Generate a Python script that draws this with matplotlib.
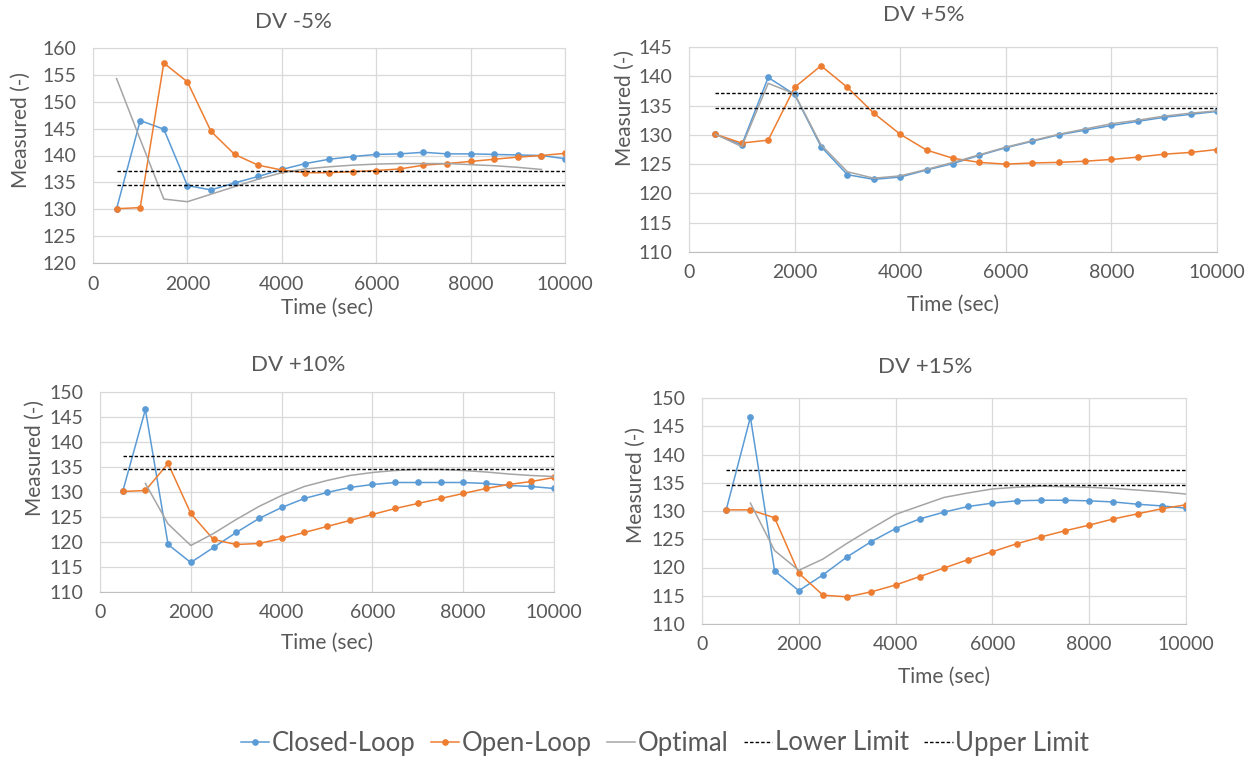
import matplotlib.pyplot as plt
import numpy as np

plt.rcParams['font.family'] = ['Lato', 'DejaVu Sans']

# sample times (sec) shared by every run
time = np.arange(500, 10001, 500)

# DV -5%
closed_m5 = [130.1, 146.5, 144.9, 134.4, 133.6, 134.9, 136.1, 137.4, 138.5, 139.3,
             139.8, 140.2, 140.3, 140.6, 140.3, 140.3, 140.2, 140.1, 140.0, 139.4]
open_m5 = [130.1, 130.3, 157.2, 153.7, 144.5, 140.2, 138.2, 137.3, 136.8, 136.8,
           137.0, 137.2, 137.5, 138.2, 138.5, 138.9, 139.3, 139.7, 140.0, 140.4]
optimal_m5 = [154.3, 143.0, 131.9, 131.4, 132.8, 134.2, 135.6, 136.8, 137.5, 137.9,
              138.2, 138.4, 138.5, 138.5, 138.5, 138.3, 138.1, 137.8, 137.4, np.nan]

# DV +5%
closed_p5 = [130.1, 128.3, 139.8, 136.9, 128.0, 123.2, 122.4, 122.8, 124.0, 125.1,
             126.5, 127.8, 128.9, 130.0, 130.8, 131.6, 132.3, 133.0, 133.5, 134.0]
open_p5 = [130.1, 128.6, 129.1, 138.1, 141.8, 138.1, 133.7, 130.1, 127.4, 126.0,
           125.3, 125.0, 125.2, 125.3, 125.5, 125.8, 126.2, 126.7, 127.0, 127.5]
optimal_p5 = [130.1, 128.0, 138.8, 137.0, 128.3, 123.7, 122.6, 123.0, 124.1, 125.3,
              126.6, 127.9, 129.0, 130.1, 131.0, 131.9, 132.5, 133.2, 133.7, 134.1]

# DV +10%
closed_p10 = [130.1, 146.5, 119.5, 115.9, 118.9, 121.9, 124.7, 126.9, 128.7, 129.9,
              130.9, 131.5, 131.9, 131.9, 131.9, 131.9, 131.7, 131.3, 131.1, 130.7]
open_p10 = [130.1, 130.3, 135.7, 125.7, 120.5, 119.5, 119.7, 120.7, 121.9, 123.1,
            124.3, 125.5, 126.7, 127.7, 128.7, 129.7, 130.7, 131.5, 132.1, 132.9]
optimal_p10 = [np.nan, 131.7, 123.6, 119.3, 121.7, 124.5, 127.1, 129.3, 131.1, 132.3,
               133.3, 133.9, 134.3, 134.5, 134.5, 134.3, 134.0, 133.6, 133.3, 133.1]

# DV +15%
closed_p15 = [130.2, 146.6, 119.4, 115.9, 118.7, 121.9, 124.6, 126.9, 128.6, 129.8,
              130.8, 131.4, 131.8, 131.9, 131.9, 131.8, 131.6, 131.2, 130.9, 130.5]
open_p15 = [130.2, 130.2, 128.8, 119.0, 115.1, 114.8, 115.7, 116.9, 118.4, 119.9,
            121.4, 122.8, 124.2, 125.4, 126.5, 127.5, 128.6, 129.5, 130.4, 131.1]
optimal_p15 = [np.nan, 131.4, 123.0, 119.5, 121.5, 124.3, 126.9, 129.4, 130.9, 132.4,
               133.2, 133.9, 134.2, 134.4, 134.3, 134.2, 134.0, 133.7, 133.4, 133.0]

lower_limit = 134.6
upper_limit = 137.2

titles = ['DV -5%', 'DV +5%', 'DV +10%', 'DV +15%']
runs = [(closed_m5, open_m5, optimal_m5),
        (closed_p5, open_p5, optimal_p5),
        (closed_p10, open_p10, optimal_p10),
        (closed_p15, open_p15, optimal_p15)]
y_ranges = [(120, 160), (110, 145), (110, 150), (110, 150)]

BLUE = '#5B9BD5'
ORANGE = '#ED7D31'
GRAY = '#A5A5A5'
TEXT = '#595959'
GRID = '#D9D9D9'

W, H = 1255, 758
fig = plt.figure(figsize=(W / 100, H / 100), dpi=100)


def px_box(x0, y0, x1, y1):
    return [x0 / W, 1 - y1 / H, (x1 - x0) / W, (y1 - y0) / H]


# panel boxes in pixels: plot area, title centre, y-label centre, x-label centre
layout = [
    dict(box=(93, 48, 565, 263), title=(293, 22), ylab=(21, 130), xlab=(327, 308)),
    dict(box=(689, 47, 1217, 252), title=(924, 15), ylab=(625, 108), xlab=(953, 305)),
    dict(box=(100, 392, 554, 592), title=(298, 365), ylab=(35, 458), xlab=(327, 643)),
    dict(box=(702, 398, 1186, 624), title=(925, 367), ylab=(636, 485), xlab=(944, 677)),
]

handles = None
for lay, title, (closed, opened, optimal), (ylo, yhi) in zip(layout, titles, runs, y_ranges):
    ax = fig.add_axes(px_box(*lay['box']))
    h1, = ax.plot(time, closed, color=BLUE, lw=1.1, marker='o', ms=3.8, label='Closed-Loop')
    h2, = ax.plot(time, opened, color=ORANGE, lw=1.1, marker='o', ms=3.8, label='Open-Loop')
    h3, = ax.plot(time, optimal, color=GRAY, lw=1.1, label='Optimal')
    h4, = ax.plot(time, np.full(len(time), lower_limit), color='black', lw=1.0,
                  ls=(0, (2.5, 1.5)), label='Lower Limit')
    h5, = ax.plot(time, np.full(len(time), upper_limit), color='black', lw=1.0,
                  ls=(0, (2.5, 1.5)), label='Upper Limit')
    handles = [h1, h2, h3, h4, h5]

    ax.set_xlim(0, 10000)
    ax.set_ylim(ylo, yhi)
    ax.set_xticks(np.arange(0, 10001, 2000))
    ax.set_yticks(np.arange(ylo, yhi + 1, 5))
    ax.grid(True, color=GRID, lw=0.9)
    ax.set_axisbelow(True)
    ax.tick_params(length=0, labelsize=14, colors=TEXT)
    ax.tick_params(axis='x', pad=9)
    ax.tick_params(axis='y', pad=12)
    for s in ax.spines.values():
        s.set_color(GRID)
    ax.spines['bottom'].set_color('#BFBFBF')

    tx, ty = lay['title']
    fig.text(tx / W, 1 - ty / H, title, ha='center', va='center', fontsize=16, color=TEXT)
    lx, ly = lay['ylab']
    fig.text(lx / W, 1 - ly / H, 'Measured (-)', ha='center', va='center', rotation=90,
             fontsize=15, color=TEXT)
    xx, xy = lay['xlab']
    fig.text(xx / W, 1 - xy / H, 'Time (sec)', ha='center', va='center', fontsize=15, color=TEXT)

fig.legend(handles=handles, loc='center', bbox_to_anchor=(665 / W, 1 - 743 / H), ncol=5,
           frameon=False, fontsize=18.5, handlelength=1.1, handletextpad=0.1,
           columnspacing=0.6, labelcolor=TEXT)

fig.savefig('out.png', dpi=100)
